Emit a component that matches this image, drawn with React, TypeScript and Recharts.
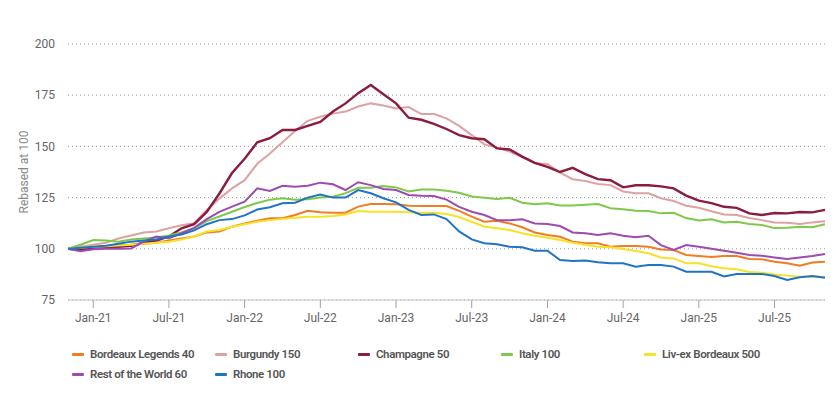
import { LineChart, Line, XAxis, YAxis, CartesianGrid } from "recharts"

const months = [
  "Nov-20","Dec-20",
  "Jan-21","Feb-21","Mar-21","Apr-21","May-21","Jun-21","Jul-21","Aug-21","Sep-21","Oct-21","Nov-21","Dec-21",
  "Jan-22","Feb-22","Mar-22","Apr-22","May-22","Jun-22","Jul-22","Aug-22","Sep-22","Oct-22","Nov-22","Dec-22",
  "Jan-23","Feb-23","Mar-23","Apr-23","May-23","Jun-23","Jul-23","Aug-23","Sep-23","Oct-23","Nov-23","Dec-23",
  "Jan-24","Feb-24","Mar-24","Apr-24","May-24","Jun-24","Jul-24","Aug-24","Sep-24","Oct-24","Nov-24","Dec-24",
  "Jan-25","Feb-25","Mar-25","Apr-25","May-25","Jun-25","Jul-25","Aug-25","Sep-25","Oct-25","Nov-25",
]

const xTicks = ["Jan-21","Jul-21","Jan-22","Jul-22","Jan-23","Jul-23","Jan-24","Jul-24","Jan-25","Jul-25"]
const yTicks = [75, 100, 125, 150, 175, 200]

const bordeauxLegends = [
  100,100.2,100.8,101.2,101.6,102,102.5,103,104,105,106,108,108.4,110.8,
  112.4,113.7,114.9,114.9,116.5,118.6,117.8,117.6,117.6,120.6,121.9,121.9,
  121.7,121,120.9,120.9,120.9,118.5,115.7,113.2,113.7,112.4,110.5,108,
  106.7,105.9,103.5,102.7,102.7,101,101.4,101.4,101,99.7,99.4,97,
  96.5,96,96.5,96.5,95,94.9,93.7,92.9,91.7,93.3,93.7,
]
const burgundy = [
  100,101,102,103,105,106.5,108,108.5,110,111.5,112.5,119,124.5,129.5,
  133.5,141.5,146.5,152,157.5,162.5,164.5,166,167,169.5,171,170,
  168.5,169.2,165.8,165.8,163.7,160,155.5,151,149.5,147.5,144.8,141.8,
  141.4,137.2,134,133.1,131.6,131.1,128,127.1,127.1,124.7,123.3,121,
  120,118.3,116.8,116.5,115,114,112.8,112.7,112.1,112.9,113.4,
]
const champagne = [
  100,99.5,100.5,101,101,101.5,103,104,106,110,112,118,127,137,
  144,152,154,158,158,160,162,167,171,176,180,175.5,
  171,164,163,161,158.5,155.5,154,153.5,149,148.5,145,142,
  140,137.5,139.5,136.5,134,133.5,130,131,131,130.5,129.5,126,
  123.5,122.3,120.5,120,117.3,116.5,117.5,117.3,118,117.8,119,
]
const italy = [
  100,102,104.3,104,103.5,104.5,105,105.5,106.5,108,110,113.5,115.8,118.1,
  120.4,122.4,124,124.7,124,124.2,125,125.4,127.2,129.8,129.8,130.6,
  130,128,129,129,128.3,127.4,125.5,124.9,124.3,124.9,122.5,121.7,
  122.2,121.2,121.2,121.5,121.9,119.8,119.3,118.6,118.5,117.3,117.6,115,
  113.8,114.4,112.9,113.2,112.1,111.6,110.1,110.3,110.8,110.5,112,
]
const livexBordeaux = [
  100,100.5,101,101.3,101.6,102,102.5,103,103.5,104.5,106,108.4,109.2,110.8,
  112,113.2,114,114.6,115.2,115.7,115.7,116,116.8,118.5,118.1,118.1,
  118.1,117.8,117.6,117.6,117,115.5,113.2,110.8,110,109.2,107.6,106.4,
  105.4,104.3,103,102,101,100.7,99.9,98.9,97.8,95.8,95.3,92.9,
  92.9,91.5,90.5,90,88.7,88.3,87.5,86.9,86.4,86.4,86.4,
]
const restOfWorld = [
  100,98.8,99.8,100,100,100.2,103.5,106,105.2,107.6,110.2,114.5,118,120.6,
  123,129.5,128.2,130.8,130.3,130.8,132.3,131.5,128.7,132.5,131.1,129.2,
  128.7,126.3,125.9,125.8,124,120.5,118.1,116.5,114,114,114.4,112.4,
  112.1,111.1,108,107.6,106.7,107.6,106.4,105.6,106.4,101.8,99.4,101.8,
  101,100,99,98.1,97,96.6,95.8,95,95.8,96.5,97.5,
]
const rhone = [
  100,100.5,101,101.5,102.5,103.5,104,104.5,106,107,109,112,114,114.5,
  116.3,119.2,120.3,122.2,122.5,125,126.5,125,125,128.7,127.1,124.7,
  122.7,119,116.5,116.8,114.5,108.5,104.6,102.7,102.2,101,100.7,99.1,
  99.1,94.5,94,94.3,93.4,92.9,92.9,91.3,92.1,92.1,91.3,88.8,
  88.8,88.8,86.5,87.7,87.7,87.7,86.7,84.8,86.1,86.7,85.9,
]

const series = [
  { key: "bordeauxLegends", name: "Bordeaux Legends 40", color: "#f07d22", values: bordeauxLegends },
  { key: "burgundy", name: "Burgundy 150", color: "#dca3a1", values: burgundy },
  { key: "champagne", name: "Champagne 50", color: "#8a1c40", values: champagne },
  { key: "italy", name: "Italy 100", color: "#7fc84a", values: italy },
  { key: "livex", name: "Liv-ex Bordeaux 500", color: "#f6e226", values: livexBordeaux },
  { key: "row", name: "Rest of the World 60", color: "#9d4bb0", values: restOfWorld },
  { key: "rhone", name: "Rhone 100", color: "#1f74c6", values: rhone },
]

const data = months.map((m, i) => {
  const row: any = { month: m }
  series.forEach(s => { row[s.key] = s.values[i] })
  return row
})

const font = "Roboto, 'Noto Sans', sans-serif"

export default function App() {
  return (
    <div style={{ position:"absolute", left:0, top:0, width:834, height:396, background:"#fff", fontFamily:font }}>
      <LineChart width={834} height={340} data={data} margin={{ top:44, right:9, bottom:0, left:0 }}>
        <CartesianGrid horizontal vertical={false} stroke="#9a9a9a" strokeDasharray="1 3" />
        <XAxis
          dataKey="month"
          ticks={xTicks}
          interval={0}
          height={40}
          stroke="#c4c4c4"
          tickSize={8}
          tickMargin={5}
          tickLine={{ stroke:"#a0a0a0" }}
          tick={{ fontSize:12, fill:"#666", fontFamily:font }}
        />
        <YAxis
          domain={[75, 200]}
          ticks={yTicks}
          width={68}
          axisLine={false}
          tickLine={false}
          tickMargin={7}
          tick={{ fontSize:12, fill:"#666", fontFamily:font }}
          label={{ value:"Rebased at 100", angle:-90, position:"insideLeft", offset:24, style:{ fontSize:12, fill:"#888", fontFamily:font, textAnchor:"middle" } }}
        />
        {series.map(s => (
          <Line
            key={s.key}
            dataKey={s.key}
            name={s.name}
            stroke={s.color}
            strokeWidth={s.key === "champagne" ? 2.4 : 2}
            dot={false}
            type="linear"
            isAnimationActive={false}
          />
        ))}
      </LineChart>

      <div style={{ position:"absolute", left:72, top:346, display:"grid", gridTemplateColumns:"repeat(5, 143px)", rowGap:4 }}>
        {series.map(s => (
          <div key={s.key} style={{ display:"flex", alignItems:"center", gap:6, height:16 }}>
            <div style={{ width:12, height:3, background:s.color, borderRadius:1 }} />
            <span style={{ fontSize:11.5, fontWeight:600, color:"#555", letterSpacing:-0.4 }}>{s.name}</span>
          </div>
        ))}
      </div>
    </div>
  )
}
